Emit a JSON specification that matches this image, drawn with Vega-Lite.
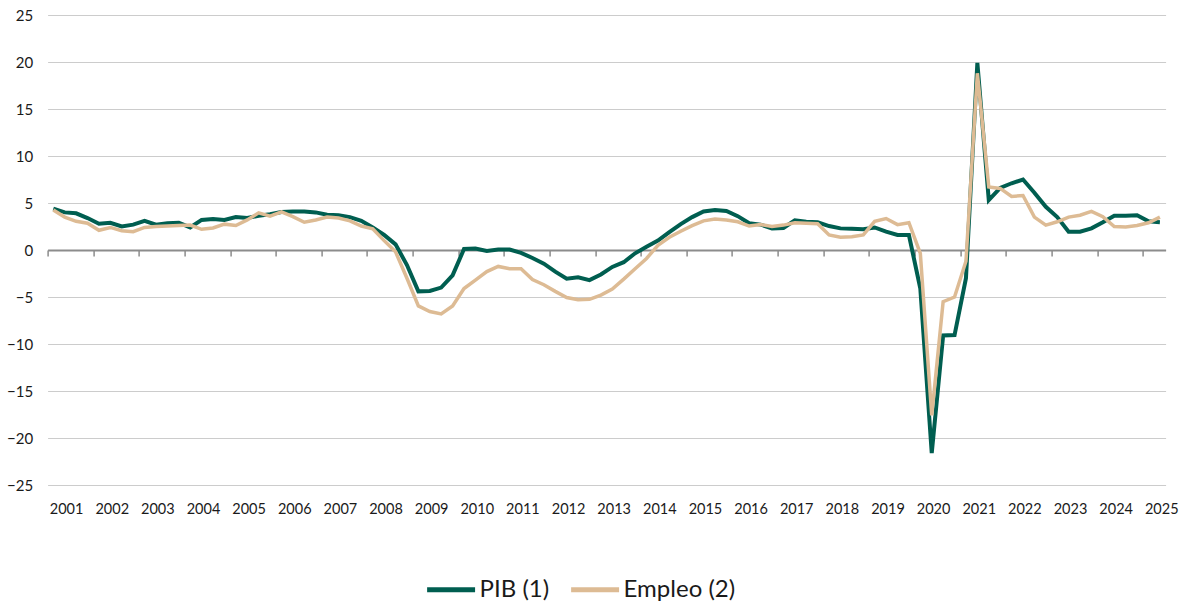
{
  "$schema": "https://vega.github.io/schema/vega-lite/v6.json",
  "width": 1118,
  "height": 470,
  "autosize": {"type": "none"},
  "padding": {"left": 47.6, "top": 15, "right": 19.4, "bottom": 119},
  "background": "white",
  "config": {
    "view": {"stroke": null},
    "font": "Lato",
    "axis": {"labelFont": "Lato", "labelColor": "#1a1a1a"},
    "legend": {"labelFont": "Lato", "labelColor": "#1a1a1a"}
  },
  "data": {"values": [
    {"t": 2001.00, "PIB": 4.4, "Empleo": 4.25},
    {"t": 2001.25, "PIB": 4.0, "Empleo": 3.5},
    {"t": 2001.50, "PIB": 3.9, "Empleo": 3.05},
    {"t": 2001.75, "PIB": 3.4, "Empleo": 2.85},
    {"t": 2002.00, "PIB": 2.8, "Empleo": 2.1},
    {"t": 2002.25, "PIB": 2.9, "Empleo": 2.4},
    {"t": 2002.50, "PIB": 2.5, "Empleo": 2.05},
    {"t": 2002.75, "PIB": 2.7, "Empleo": 1.95},
    {"t": 2003.00, "PIB": 3.1, "Empleo": 2.4},
    {"t": 2003.25, "PIB": 2.7, "Empleo": 2.5},
    {"t": 2003.50, "PIB": 2.85, "Empleo": 2.55},
    {"t": 2003.75, "PIB": 2.9, "Empleo": 2.6},
    {"t": 2004.00, "PIB": 2.4, "Empleo": 2.65},
    {"t": 2004.25, "PIB": 3.2, "Empleo": 2.2},
    {"t": 2004.50, "PIB": 3.3, "Empleo": 2.35},
    {"t": 2004.75, "PIB": 3.2, "Empleo": 2.75},
    {"t": 2005.00, "PIB": 3.5, "Empleo": 2.6},
    {"t": 2005.25, "PIB": 3.4, "Empleo": 3.2},
    {"t": 2005.50, "PIB": 3.65, "Empleo": 3.95},
    {"t": 2005.75, "PIB": 3.8, "Empleo": 3.6},
    {"t": 2006.00, "PIB": 4.05, "Empleo": 4.05},
    {"t": 2006.25, "PIB": 4.1, "Empleo": 3.55},
    {"t": 2006.50, "PIB": 4.1, "Empleo": 2.95},
    {"t": 2006.75, "PIB": 4.0, "Empleo": 3.2},
    {"t": 2007.00, "PIB": 3.75, "Empleo": 3.5},
    {"t": 2007.25, "PIB": 3.7, "Empleo": 3.4},
    {"t": 2007.50, "PIB": 3.5, "Empleo": 3.1},
    {"t": 2007.75, "PIB": 3.1, "Empleo": 2.55},
    {"t": 2008.00, "PIB": 2.4, "Empleo": 2.25},
    {"t": 2008.25, "PIB": 1.6, "Empleo": 1.0},
    {"t": 2008.50, "PIB": 0.6, "Empleo": -0.2},
    {"t": 2008.75, "PIB": -1.6, "Empleo": -3.0},
    {"t": 2009.00, "PIB": -4.4, "Empleo": -5.95},
    {"t": 2009.25, "PIB": -4.35, "Empleo": -6.55},
    {"t": 2009.50, "PIB": -4.0, "Empleo": -6.8},
    {"t": 2009.75, "PIB": -2.7, "Empleo": -5.95},
    {"t": 2010.00, "PIB": 0.1, "Empleo": -4.1},
    {"t": 2010.25, "PIB": 0.15, "Empleo": -3.2},
    {"t": 2010.50, "PIB": -0.1, "Empleo": -2.3},
    {"t": 2010.75, "PIB": 0.05, "Empleo": -1.75},
    {"t": 2011.00, "PIB": 0.05, "Empleo": -2.0},
    {"t": 2011.25, "PIB": -0.3, "Empleo": -2.0},
    {"t": 2011.50, "PIB": -0.85, "Empleo": -3.15},
    {"t": 2011.75, "PIB": -1.45, "Empleo": -3.7},
    {"t": 2012.00, "PIB": -2.3, "Empleo": -4.4},
    {"t": 2012.25, "PIB": -3.05, "Empleo": -5.05},
    {"t": 2012.50, "PIB": -2.9, "Empleo": -5.3},
    {"t": 2012.75, "PIB": -3.2, "Empleo": -5.25},
    {"t": 2013.00, "PIB": -2.6, "Empleo": -4.8},
    {"t": 2013.25, "PIB": -1.8, "Empleo": -4.15},
    {"t": 2013.50, "PIB": -1.3, "Empleo": -3.1},
    {"t": 2013.75, "PIB": -0.35, "Empleo": -2.0},
    {"t": 2014.00, "PIB": 0.35, "Empleo": -0.9},
    {"t": 2014.25, "PIB": 1.0, "Empleo": 0.5},
    {"t": 2014.50, "PIB": 1.9, "Empleo": 1.35},
    {"t": 2014.75, "PIB": 2.75, "Empleo": 2.0},
    {"t": 2015.00, "PIB": 3.5, "Empleo": 2.6},
    {"t": 2015.25, "PIB": 4.1, "Empleo": 3.1},
    {"t": 2015.50, "PIB": 4.25, "Empleo": 3.3},
    {"t": 2015.75, "PIB": 4.15, "Empleo": 3.2},
    {"t": 2016.00, "PIB": 3.6, "Empleo": 3.0},
    {"t": 2016.25, "PIB": 2.85, "Empleo": 2.55},
    {"t": 2016.50, "PIB": 2.7, "Empleo": 2.7},
    {"t": 2016.75, "PIB": 2.3, "Empleo": 2.5},
    {"t": 2017.00, "PIB": 2.35, "Empleo": 2.65},
    {"t": 2017.25, "PIB": 3.15, "Empleo": 2.9},
    {"t": 2017.50, "PIB": 3.0, "Empleo": 2.85},
    {"t": 2017.75, "PIB": 2.95, "Empleo": 2.8},
    {"t": 2018.00, "PIB": 2.55, "Empleo": 1.6},
    {"t": 2018.25, "PIB": 2.3, "Empleo": 1.35},
    {"t": 2018.50, "PIB": 2.25, "Empleo": 1.4},
    {"t": 2018.75, "PIB": 2.2, "Empleo": 1.6},
    {"t": 2019.00, "PIB": 2.4, "Empleo": 3.05},
    {"t": 2019.25, "PIB": 1.95, "Empleo": 3.35},
    {"t": 2019.50, "PIB": 1.6, "Empleo": 2.7},
    {"t": 2019.75, "PIB": 1.6, "Empleo": 2.9},
    {"t": 2020.00, "PIB": -4.1, "Empleo": -0.35},
    {"t": 2020.25, "PIB": -21.6, "Empleo": -17.6},
    {"t": 2020.50, "PIB": -9.1, "Empleo": -5.5},
    {"t": 2020.75, "PIB": -9.05, "Empleo": -5.0},
    {"t": 2021.00, "PIB": -3.0, "Empleo": -1.2},
    {"t": 2021.25, "PIB": 19.9, "Empleo": 18.8},
    {"t": 2021.50, "PIB": 5.3, "Empleo": 6.7},
    {"t": 2021.75, "PIB": 6.6, "Empleo": 6.55},
    {"t": 2022.00, "PIB": 7.1, "Empleo": 5.7},
    {"t": 2022.25, "PIB": 7.5, "Empleo": 5.8},
    {"t": 2022.50, "PIB": 6.1, "Empleo": 3.5},
    {"t": 2022.75, "PIB": 4.6, "Empleo": 2.65},
    {"t": 2023.00, "PIB": 3.5, "Empleo": 3.0},
    {"t": 2023.25, "PIB": 1.95, "Empleo": 3.5},
    {"t": 2023.50, "PIB": 1.95, "Empleo": 3.7},
    {"t": 2023.75, "PIB": 2.3, "Empleo": 4.1},
    {"t": 2024.00, "PIB": 2.95, "Empleo": 3.55},
    {"t": 2024.25, "PIB": 3.65, "Empleo": 2.5},
    {"t": 2024.50, "PIB": 3.65, "Empleo": 2.45},
    {"t": 2024.75, "PIB": 3.7, "Empleo": 2.6},
    {"t": 2025.00, "PIB": 3.05, "Empleo": 2.9},
    {"t": 2025.25, "PIB": 2.95, "Empleo": 3.5}
  ]},
  "resolve": {"axis": {"x": "independent"}},
  "layer": [
    {
      "mark": {"type": "line", "strokeWidth": 4, "strokeJoin": "miter", "strokeCap": "butt"},
      "encoding": {
        "x": {
          "field": "t", "type": "quantitative",
          "scale": {"domain": [2000.875, 2025.375], "nice": false, "zero": false},
          "axis": {
            "title": null,
            "values": [2001.28,2002.28,2003.28,2004.28,2005.28,2006.28,2007.28,2008.28,2009.28,2010.28,2011.28,2012.28,2013.28,2014.28,2015.28,2016.28,2017.28,2018.28,2019.28,2020.28,2021.28,2022.28,2023.28,2024.28,2025.28],
            "labelExpr": "format(floor(datum.value), 'd')",
            "ticks": false, "domain": false, "grid": false,
            "labelPadding": 17, "labelFontSize": 14.5, "labelOverlap": false, "labelBound": false, "labelFlush": false
          }
        },
        "y": {
          "field": "PIB", "type": "quantitative",
          "scale": {"domain": [-25, 25], "nice": false, "zero": false},
          "axis": {
            "title": null, "values": [-25,-20,-15,-10,-5,0,5,10,15,20,25],
            "grid": true, "gridColor": "#cccccc", "gridWidth": 1,
            "domain": false, "ticks": false, "labelPadding": 15, "labelFontSize": 15
          }
        },
        "color": {
          "datum": "PIB (1)",
          "scale": {"domain": ["PIB (1)", "Empleo (2)"], "range": ["#005E50", "#DDBB94"]},
          "legend": {
            "title": null, "orient": "none", "direction": "horizontal",
            "legendX": 377, "legendY": 548,
            "symbolType": "stroke", "symbolSize": 2300, "symbolStrokeWidth": 5,
            "labelFontSize": 24, "labelOffset": 2, "columnPadding": 11
          }
        }
      }
    },
    {
      "mark": {"type": "line", "strokeWidth": 3.5, "strokeJoin": "miter", "strokeCap": "butt"},
      "encoding": {
        "x": {
          "field": "t", "type": "quantitative",
          "axis": {
            "title": null, "orient": "bottom", "offset": -235,
            "values": [2000.875,2001.875,2002.875,2003.875,2004.875,2005.875,2006.875,2007.875,2008.875,2009.875,2010.875,2011.875,2012.875,2013.875,2014.875,2015.875,2016.875,2017.875,2018.875,2019.875,2020.875,2021.875,2022.875,2023.875,2024.875],
            "labels": false, "grid": false,
            "ticks": true, "tickSize": 6, "tickWidth": 1.5, "tickColor": "#8c8c8c",
            "domain": true, "domainColor": "#8c8c8c", "domainWidth": 2
          }
        },
        "y": {"field": "Empleo", "type": "quantitative"},
        "color": {"datum": "Empleo (2)"}
      }
    }
  ]
}
